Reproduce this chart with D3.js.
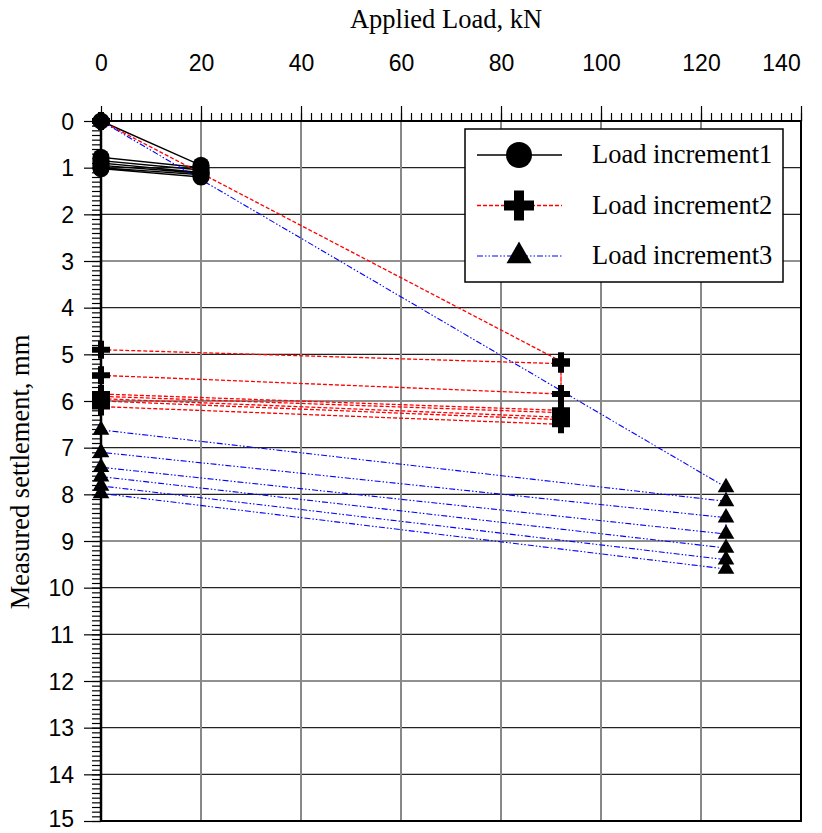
<!DOCTYPE html>
<html lang="en">
<head>
<meta charset="UTF-8">
<title>Applied load vs measured settlement</title>
<style>
    body { margin: 0; background: #fff; }
    svg text { fill: #000; }
    .title { font-family: "Liberation Serif", "Times New Roman", serif; font-size: 26.5px; }
</style>
</head>
<body>
<div id="chart"></div>
<script src="https://d3js.org/d3.v7.min.js"></script>
<script>
// Series: [load kN, settlement mm] in drawing order
const increment1 = [[0,0],[20,0.95],[20,1.0],[0,0.78],[0,0.85],[20,1.05],[20,1.1],[0,0.9],
                    [0,0.95],[20,1.12],[20,1.15],[0,1.0],[0,1.02],[20,1.2]];
const increment2 = [[0,0],[92,5.15],[92,5.85],[0,5.45],[0,4.9],[92,5.2],[92,6.2],[0,5.85],
                    [0,5.9],[92,6.25],[92,6.35],[0,5.95],[0,6.0],[92,6.4],[92,6.5],[0,6.12]];
const increment3 = [[0,0],[125,7.85],[125,8.15],[0,6.62],[0,7.1],[125,8.5],[125,8.85],[0,7.42],
                    [0,7.62],[125,9.15],[125,9.4],[0,7.82],[0,7.98],[125,9.6]];
const seriesNames = ["Load increment1", "Load increment2", "Load increment3"];
const xTicks = [0, 20, 40, 60, 80, 100, 120, 140];
const yTicks = d3.range(0, 16);

const width = 822, height = 833;
const svg = d3.select("#chart").append("svg")
    .attr("width", width)
    .attr("height", height);

const x = d3.scaleLinear().domain([0, 140]).range([101, 801]);
const y = d3.scaleLinear().domain([0, 15]).range([121, 821]);

// grid
svg.append("g").selectAll("line")
    .data(yTicks.filter(d => d > 0 && d < 15))
    .join("line")
    .attr("x1", x(0)).attr("x2", x(140))
    .attr("y1", d => y(d)).attr("y2", d => y(d))
    .attr("stroke", "#222").attr("stroke-width", 1.2);
svg.append("g").selectAll("line")
    .data(xTicks.filter(d => d > 0 && d < 140))
    .join("line")
    .attr("x1", d => x(d)).attr("x2", d => x(d))
    .attr("y1", y(0)).attr("y2", y(15))
    .attr("stroke", "#888").attr("stroke-width", 2);

// series lines
const styles = [
    { color: "#000", dash: null, width: 1.4, symbol: d3.symbolCircle, size: 230, legendSize: 530 },
    { color: "#ff0000", dash: "4,2", width: 1.3, symbol: d3.symbolCross, size: 180, legendSize: 500 },
    { color: "#0000ff", dash: "6,2,1.5,2,1.5,2", width: 1.1, symbol: d3.symbolTriangle, size: 120, legendSize: 270 }
];
const allSeries = [increment1, increment2, increment3];
const line = d3.line().x(d => x(d[0])).y(d => y(d[1]));

allSeries.forEach((data, i) => {
    svg.append("path")
        .datum(data)
        .attr("d", line)
        .attr("fill", "none")
        .attr("stroke", styles[i].color)
        .attr("stroke-width", styles[i].width)
        .attr("stroke-dasharray", styles[i].dash);
});

// axes
const topAxis = d3.axisTop(x).tickValues(xTicks).tickSize(15).tickPadding(43);
const topMinor = d3.axisTop(x).tickValues(d3.range(0, 141, 2)).tickSize(8).tickFormat("");
const leftAxis = d3.axisLeft(y).tickValues(yTicks).tickSize(17).tickPadding(10);
const leftMinor = d3.axisLeft(y).tickValues(d3.range(0, 150.5, 1).map(d => d / 10)).tickSize(9).tickFormat("");

function styleAxis(g) {
    g.attr("font-family", "'Liberation Sans', Arial, sans-serif").attr("font-size", 23);
    g.select(".domain").remove();
    g.selectAll(".tick line").attr("stroke", "#000").attr("stroke-width", 1.2);
    g.selectAll(".tick text").attr("fill", "#000").attr("dy", "0.35em");
}
svg.append("g").attr("transform", `translate(0,${y(0)})`).call(topMinor).call(styleAxis);
const topG = svg.append("g").attr("transform", `translate(0,${y(0)})`).call(topAxis).call(styleAxis);
svg.append("g").attr("transform", `translate(${x(0)},0)`).call(leftMinor).call(styleAxis);
const leftG = svg.append("g").attr("transform", `translate(${x(0)},0)`).call(leftAxis).call(styleAxis);
// keep the edge labels inside the picture
topG.selectAll(".tick text").filter(d => d === 140).attr("dx", -20);
leftG.selectAll(".tick text").filter(d => d === 15).attr("dy", "0.25em");

// frame
svg.append("rect")
    .attr("x", x(0)).attr("y", y(0))
    .attr("width", x(140) - x(0)).attr("height", y(15) - y(0))
    .attr("fill", "none").attr("stroke", "#000").attr("stroke-width", 2);
svg.append("line")
    .attr("x1", x(0)).attr("x2", x(0)).attr("y1", y(0)).attr("y2", y(15))
    .attr("stroke", "#000").attr("stroke-width", 2.5);

// markers
allSeries.forEach((data, i) => {
    svg.append("g").selectAll("path")
        .data(data)
        .join("path")
        .attr("transform", d => `translate(${x(d[0])},${y(d[1])})`)
        .attr("d", d3.symbol().type(styles[i].symbol).size(styles[i].size))
        .attr("fill", "#000");
});

// titles
svg.append("text")
    .attr("class", "title")
    .attr("x", 446).attr("y", 28)
    .attr("text-anchor", "middle")
    .text("Applied Load, kN");
svg.append("text")
    .attr("class", "title")
    .attr("transform", "translate(29,472) rotate(-90)")
    .attr("text-anchor", "middle")
    .text("Measured settlement, mm");

// legend
const legend = svg.append("g").attr("transform", "translate(465,129)");
legend.append("rect")
    .attr("width", 318).attr("height", 153)
    .attr("fill", "#fff").attr("stroke", "#000").attr("stroke-width", 1.5);
seriesNames.forEach((name, i) => {
    const cy = 26 + i * 50.5;
    legend.append("line")
        .attr("x1", 12).attr("x2", 97).attr("y1", cy).attr("y2", cy)
        .attr("stroke", styles[i].color)
        .attr("stroke-width", styles[i].width)
        .attr("stroke-dasharray", styles[i].dash);
    legend.append("path")
        .attr("transform", `translate(54,${cy})`)
        .attr("d", d3.symbol().type(styles[i].symbol).size(styles[i].legendSize))
        .attr("fill", "#000");
    legend.append("text")
        .attr("class", "title")
        .attr("x", 127).attr("y", cy + 8)
        .text(name);
});
</script>
</body>
</html>
